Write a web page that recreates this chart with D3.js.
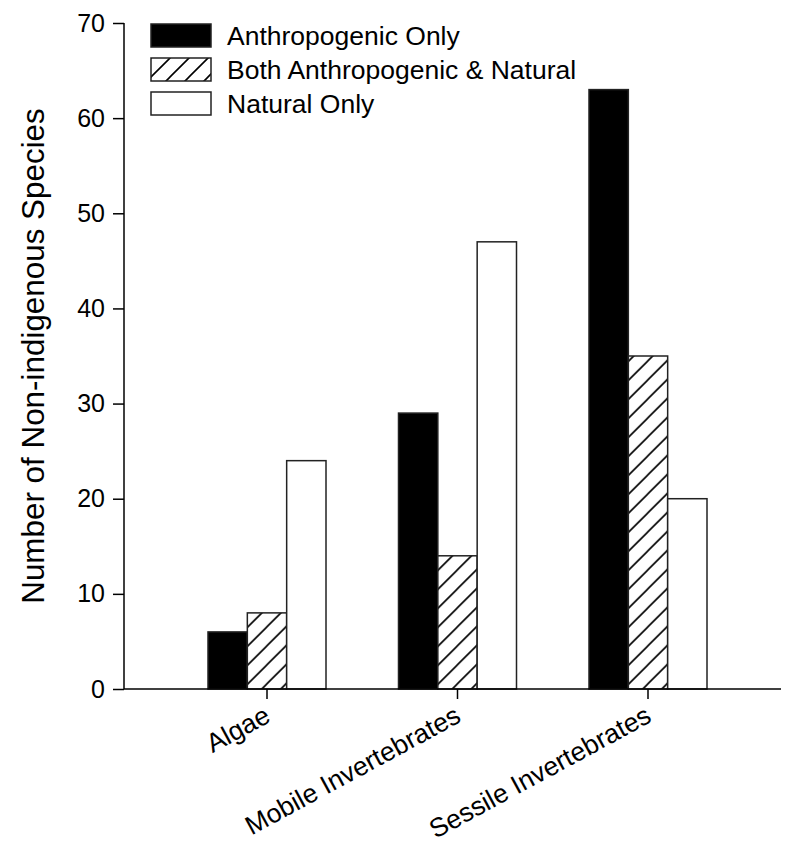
<!DOCTYPE html>
<html><head><meta charset="utf-8">
<script src="https://cdn.jsdelivr.net/npm/d3@7"></script>
<style>body{margin:0;background:#fff}svg{display:block}text{font-family:Arial,"Liberation Sans",sans-serif;fill:#000}</style>
</head><body><svg id="c" width="785" height="843"></svg>
<script>
const categories = ["Algae", "Mobile Invertebrates", "Sessile Invertebrates"];
const seriesNames = ["Anthropogenic Only", "Both Anthropogenic & Natural", "Natural Only"];
const anthropogenic = [6, 29, 63];
const both = [8, 14, 35];
const natural = [24, 47, 20];
const yTicks = [0, 10, 20, 30, 40, 50, 60, 70];

(function(){
const seriesValues = [anthropogenic, both, natural];
const svg = d3.select("#c");
const defs = svg.append("defs");
const pat = defs.append("pattern").attr("id","hatch").attr("patternUnits","userSpaceOnUse")
  .attr("width",19).attr("height",19);
pat.append("rect").attr("width",19).attr("height",19).attr("fill","#fff");
pat.append("path").attr("d","M-1,20 L20,-1 M-5,5 L5,-5 M14,24 L24,14").attr("stroke","#000").attr("stroke-width",1.6);

const fills = ["#000", "url(#hatch)", "#fff"];
const mL = 124, mR = 781, mT = 23, mB = 689;
const y = d3.scaleLinear().domain([0,70]).range([mB, mT]);
const x = d3.scaleBand().domain(categories).range([171.75, 743.25]);
const inner = d3.scaleBand().domain(seriesNames).range([x.bandwidth()/2 - 59, x.bandwidth()/2 + 59]);

// bars
const groups = svg.append("g").selectAll("g").data(categories).join("g")
  .attr("transform", d => `translate(${x(d)},0)`);
groups.selectAll("rect").data((c,i) => seriesNames.map((s,j) => ({s, j, v: seriesValues[j][i]})))
  .join("rect")
  .attr("x", d => inner(d.s)).attr("width", inner.bandwidth())
  .attr("y", d => y(d.v)).attr("height", d => y(0) - y(d.v))
  .attr("fill", d => fills[d.j]).attr("stroke", "#222").attr("stroke-width", 1.5);

// y axis
const yAxis = svg.append("g").attr("transform", `translate(${mL},0)`)
  .call(d3.axisLeft(y).tickValues(yTicks).tickSize(11).tickPadding(8).tickFormat(d3.format("d")));
yAxis.select(".domain").attr("d", `M0,${mT}V${mB}`).attr("stroke","#000").attr("stroke-width",1.5);
yAxis.selectAll(".tick line").attr("stroke","#000").attr("stroke-width",1.5);
yAxis.selectAll(".tick text").attr("font-size",25).attr("font-family","Arial, Liberation Sans, sans-serif");

// x axis
const xAxis = svg.append("g").attr("transform", `translate(0,${mB})`)
  .call(d3.axisBottom(x).tickSize(10).tickFormat(""));
xAxis.select(".domain").attr("d", `M${mL},0H${mR}`).attr("stroke","#000").attr("stroke-width",1.5);
xAxis.selectAll(".tick line").attr("stroke","#000").attr("stroke-width",1.5);
xAxis.selectAll(".tick").append("text")
  .attr("text-anchor","end").attr("font-size",26.5)
  .attr("font-family","Arial, Liberation Sans, sans-serif")
  .attr("transform","translate(5,32) rotate(-28.5)")
  .text(d => d);

// y title
svg.append("text").attr("transform", `translate(44,${(mT+mB)/2}) rotate(-90)`)
  .attr("text-anchor","middle").attr("font-size",31.4).text("Number of Non-indigenous Species");

// legend
const lg = svg.append("g").selectAll("g").data(seriesNames).join("g")
  .attr("transform", (d,i) => `translate(151,${24 + i*34})`);
lg.append("rect").attr("width",60).attr("height",23)
  .attr("fill", (d,i) => fills[i]).attr("stroke","#222").attr("stroke-width",1.5);
lg.append("text").attr("x",76).attr("y",21).attr("font-size",26.5).text(d => d);
})();
</script></body></html>
